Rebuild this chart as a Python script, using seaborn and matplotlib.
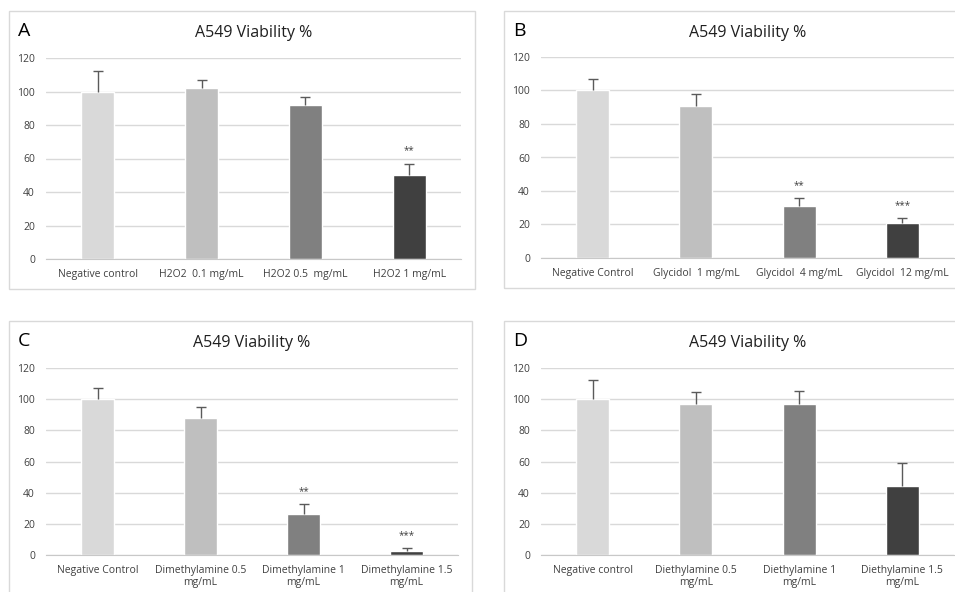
import matplotlib
matplotlib.use("Agg")
import matplotlib.pyplot as plt
import seaborn as sns
from matplotlib.patches import Rectangle

sns.set_style("white")
plt.rcParams['font.family'] = ['Open Sans', 'DejaVu Sans']

# Data
bar_colors = ["#D9D9D9", "#BFBFBF", "#808080", "#404040"]

labels_a = ["Negative control", "H2O2  0.1 mg/mL", "H2O2 0.5  mg/mL", "H2O2 1 mg/mL"]
means_a = [100, 102, 92, 50]
tops_a = [112, 107, 97, 57]
stars_a = ["", "", "", "**"]

labels_b = ["Negative Control", "Glycidol  1 mg/mL", "Glycidol  4 mg/mL", "Glycidol  12 mg/mL"]
means_b = [100, 90.5, 31, 20.7]
tops_b = [106.8, 97.8, 36, 24]
stars_b = ["", "", "**", "***"]

labels_c = ["Negative Control", "Dimethylamine 0.5\nmg/mL", "Dimethylamine 1\nmg/mL", "Dimethylamine 1.5\nmg/mL"]
means_c = [100, 88, 26.5, 2.8]
tops_c = [107, 94.7, 32.6, 4.5]
stars_c = ["", "", "**", "***"]

labels_d = ["Negative control", "Diethylamine 0.5\nmg/mL", "Diethylamine 1\nmg/mL", "Diethylamine 1.5\nmg/mL"]
means_d = [100, 96.6, 96.6, 44.2]
tops_d = [112, 104.5, 105.2, 59]
stars_d = ["", "", "", ""]

W, H = 955, 592
fig = plt.figure(figsize=(W / 100, H / 100), dpi=100)


def px_axes(x0, y0, x1, y1):
    return fig.add_axes([x0 / W, 1 - y1 / H, (x1 - x0) / W, (y1 - y0) / H])


def panel(letter, box, area, title_y, labels, means, tops, stars):
    bx0, by0, bx1, by1 = box
    fig.patches.append(Rectangle((bx0 / W, 1 - by1 / H), (bx1 - bx0) / W, (by1 - by0) / H,
                                 transform=fig.transFigure, fill=False,
                                 edgecolor="#D9D9D9", linewidth=1.0))
    ax = px_axes(*area)
    sns.barplot(x=labels, y=means, hue=labels, palette=bar_colors, legend=False,
                width=0.32, saturation=1, ax=ax)
    lower = [0] * len(means)
    upper = [t - m for t, m in zip(tops, means)]
    _, caps, _ = ax.errorbar(range(len(means)), means, yerr=[lower, upper], fmt="none",
                             ecolor="#5A5A5A", elinewidth=1.0, capsize=3.5, capthick=1.0)
    caps[0].set_visible(False)  # only the upper cap
    for i, s in enumerate(stars):
        if s:
            ax.annotate(s, (i, tops[i]), xytext=(0, 5), textcoords="offset points",
                        ha="center", va="bottom", fontsize=7, color="#404040")
    ax.set_ylim(0, 120)
    ax.set_xlim(-0.5, len(means) - 0.5)
    ax.set_yticks(range(0, 121, 20))
    ax.yaxis.grid(True, color="#D9D9D9", linewidth=1)
    ax.set_axisbelow(True)
    for sp in ["top", "right", "left"]:
        ax.spines[sp].set_visible(False)
    ax.spines["bottom"].set_color("#C8C8C8")
    ax.tick_params(axis="both", length=0, labelsize=7.5, colors="#404040")
    ax.tick_params(axis="y", pad=8)
    ax.tick_params(axis="x", pad=7)
    for t in ax.get_xticklabels():
        t.set_linespacing(1.2)
    ax.set_xlabel("")
    ax.set_ylabel("")
    cx = (area[0] + area[2]) / 2
    fig.text(cx / W, 1 - title_y / H, "A549 Viability %", ha="center", va="center",
             fontsize=11.5, color="#1F1F1F")
    fig.text((bx0 + 9) / W, 1 - (by0 + 20) / H, letter, ha="left", va="center",
             fontsize=14, color="#000000")
    return ax


panel("A", (9, 11, 475, 289), (46, 58, 461, 259), 33, labels_a, means_a, tops_a, stars_a)
panel("B", (504, 11, 960, 288), (541, 57, 954, 258), 33, labels_b, means_b, tops_b, stars_b)
panel("C", (9, 321, 472, 600), (46, 368, 458, 555), 343, labels_c, means_c, tops_c, stars_c)
panel("D", (504, 321, 960, 600), (541, 368, 954, 555), 343, labels_d, means_d, tops_d, stars_d)

fig.savefig("out.png", dpi=100)
